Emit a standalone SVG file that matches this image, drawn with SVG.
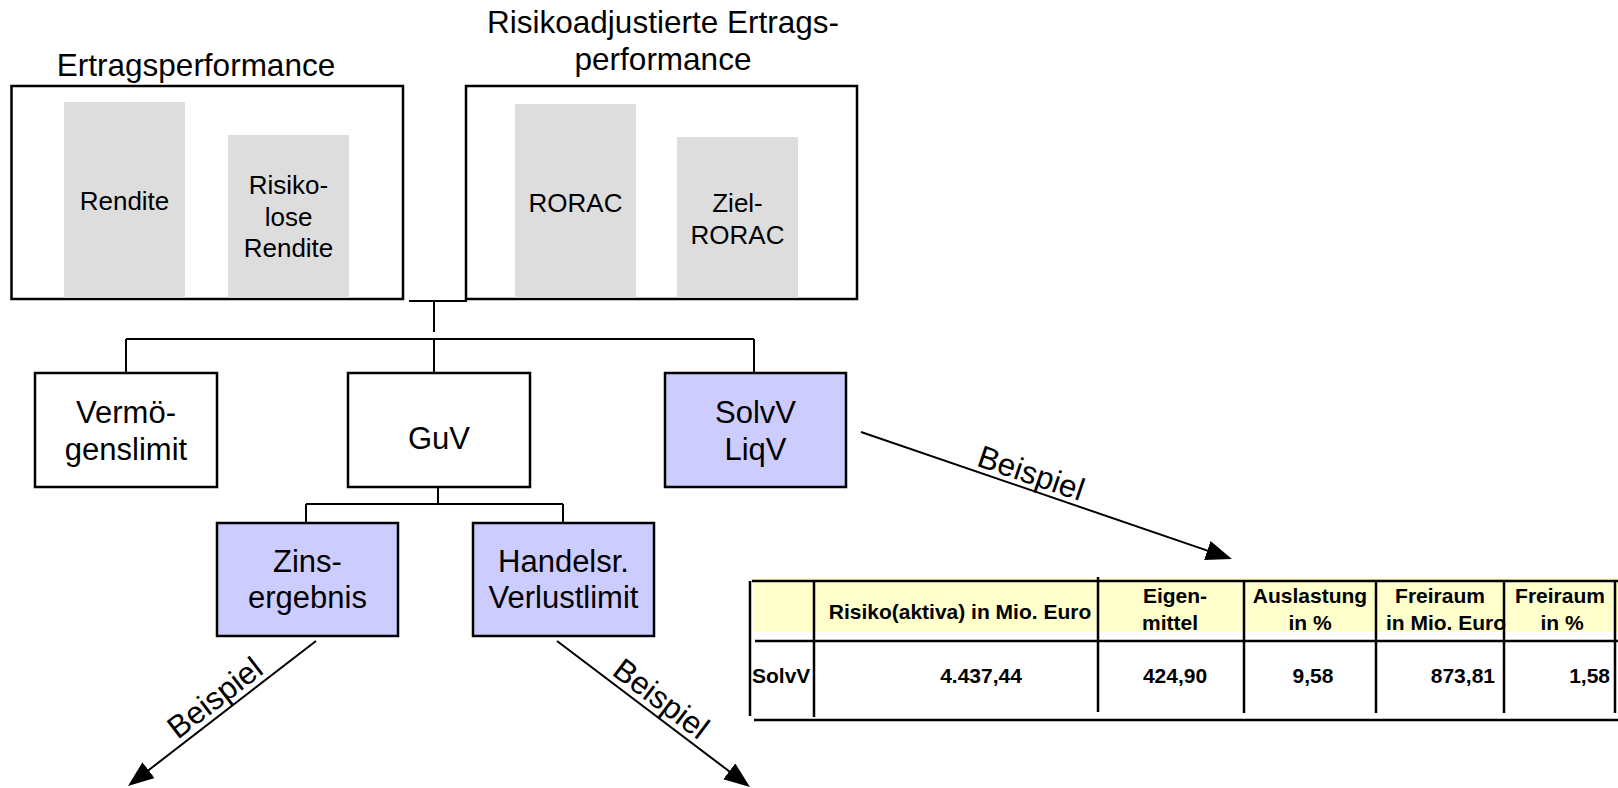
<svg xmlns="http://www.w3.org/2000/svg" width="1618" height="788" viewBox="0 0 1618 788">
<style>
text{font-family:"Liberation Sans",Arial,sans-serif;fill:#000}
.title{font-size:31.5px;text-anchor:middle}
.bar{fill:#dddddd}
.bt{font-size:26px;text-anchor:middle}
.frame{fill:#fff;stroke:#000;stroke-width:2.5}
.node{fill:#fff;stroke:#000;stroke-width:2.5}
.hl{fill:#ccccff}
.nt{font-size:31px;text-anchor:middle}
.con{fill:none;stroke:#000;stroke-width:2}
.arr{fill:none;stroke:#000;stroke-width:2;marker-end:url(#ah)}
.lbl{font-size:31.5px;text-anchor:middle}
.tl{stroke:#000;stroke-width:2.5}
.th{font-size:21px;font-weight:bold;text-anchor:middle}
.td{font-size:21px;font-weight:bold}
</style>
<defs>
<marker id="ah" markerUnits="userSpaceOnUse" viewBox="0 0 26 20" refX="14" refY="10" markerWidth="26" markerHeight="20" orient="auto">
<path d="M0,0 L26,10 L0,20 Z" fill="#000"/>
</marker>
</defs>
<rect width="1618" height="788" fill="#fff"/>

<g id="ertragsperformance">
<text class="title" x="196" y="76">Ertragsperformance</text>
<rect class="frame" x="11.5" y="86" width="391.5" height="213"/>
<rect class="bar" x="64" y="102" width="121" height="195.8"/>
<text class="bt" x="124.5" y="210">Rendite</text>
<rect class="bar" x="228" y="135" width="121" height="162.8"/>
<text class="bt" x="288.5" y="194">Risiko-</text>
<text class="bt" x="288.5" y="225.5">lose</text>
<text class="bt" x="288.5" y="257">Rendite</text>
</g>

<g id="risikoadjustierte">
<text class="title" x="663" y="33">Risikoadjustierte Ertrags-</text>
<text class="title" x="663" y="70">performance</text>
<rect class="frame" x="466" y="86" width="391" height="213"/>
<rect class="bar" x="515" y="104" width="121" height="193.8"/>
<text class="bt" x="575.5" y="212">RORAC</text>
<rect class="bar" x="677" y="137" width="121" height="160.8"/>
<text class="bt" x="737.5" y="212">Ziel-</text>
<text class="bt" x="737.5" y="243.5">RORAC</text>
</g>

<g id="connectors">
<line class="con" x1="409" y1="301" x2="467" y2="301"/>
<line class="con" x1="434" y1="301" x2="434" y2="332"/>
<line class="con" x1="126" y1="339" x2="754" y2="339"/>
<line class="con" x1="126" y1="339" x2="126" y2="373"/>
<line class="con" x1="434" y1="339" x2="434" y2="373"/>
<line class="con" x1="754" y1="339" x2="754" y2="373"/>
<line class="con" x1="438" y1="488" x2="438" y2="504"/>
<line class="con" x1="306" y1="504" x2="563" y2="504"/>
<line class="con" x1="306" y1="504" x2="306" y2="523"/>
<line class="con" x1="563" y1="504" x2="563" y2="523"/>
<line class="arr" x1="861" y1="432" x2="1220.6" y2="555.1"/>
<line class="arr" x1="316" y1="641" x2="137.5" y2="778.7"/>
<line class="arr" x1="557" y1="641" x2="740.4" y2="779.8"/>
<text class="lbl" transform="translate(1026,488) rotate(18.9)" x="0" y="-5">Beispiel</text>
<text class="lbl" transform="translate(225,711) rotate(-37.6)" x="0" y="-6">Beispiel</text>
<text class="lbl" transform="translate(651,712) rotate(37.1)" x="0" y="-6">Beispiel</text>
</g>

<g id="vermoegenslimit">
<rect class="node" x="35" y="373" width="182" height="114"/>
<text class="nt" x="126" y="423">Vermö-</text>
<text class="nt" x="126" y="460">genslimit</text>
</g>

<g id="guv">
<rect class="node" x="348" y="373" width="182" height="114"/>
<text class="nt" x="439" y="449">GuV</text>
</g>

<g id="solvv-liqv">
<rect class="node hl" x="665" y="373" width="181" height="114"/>
<text class="nt" x="755.5" y="423">SolvV</text>
<text class="nt" x="755.5" y="460">LiqV</text>
</g>

<g id="zinsergebnis">
<rect class="node hl" x="217" y="523" width="181" height="113"/>
<text class="nt" x="307.5" y="572">Zins-</text>
<text class="nt" x="307.5" y="608">ergebnis</text>
</g>

<g id="handelsr-verlustlimit">
<rect class="node hl" x="473" y="523" width="181" height="113"/>
<text class="nt" x="563.5" y="572">Handelsr.</text>
<text class="nt" x="563.5" y="608">Verlustlimit</text>
</g>

<g id="table">
<rect x="753" y="578" width="865" height="54" fill="#ffffcc"/>
<text class="th" x="960" y="619">Risiko(aktiva) in Mio. Euro</text>
<text class="th" x="1175" y="603">Eigen-</text>
<text class="th" x="1170" y="630">mittel</text>
<text class="th" x="1310" y="603">Auslastung</text>
<text class="th" x="1310" y="630">in %</text>
<text class="th" x="1440" y="603">Freiraum</text>
<text class="th" x="1446" y="630">in Mio. Euro</text>
<text class="th" x="1560" y="603">Freiraum</text>
<text class="th" x="1562" y="630">in %</text>
<text class="td" x="752" y="683">SolvV</text>
<text class="td" x="981" y="683" text-anchor="middle">4.437,44</text>
<text class="td" x="1175" y="683" text-anchor="middle">424,90</text>
<text class="td" x="1313" y="683" text-anchor="middle">9,58</text>
<text class="td" x="1495" y="683" text-anchor="end">873,81</text>
<text class="td" x="1610" y="683" text-anchor="end">1,58</text>
<line class="tl" x1="752" y1="581" x2="1618" y2="581"/>
<line class="tl" x1="755" y1="641" x2="1618" y2="641"/>
<line class="tl" x1="754" y1="720" x2="1618" y2="720"/>
<line class="tl" x1="750" y1="581" x2="750" y2="716"/>
<line class="tl" x1="814" y1="582" x2="814" y2="717"/>
<line class="tl" x1="1098" y1="577" x2="1098" y2="712"/>
<line class="tl" x1="1244" y1="582" x2="1244" y2="713"/>
<line class="tl" x1="1376" y1="582" x2="1376" y2="713"/>
<line class="tl" x1="1504" y1="582" x2="1504" y2="713"/>
<line class="tl" x1="1615" y1="582" x2="1615" y2="713"/>
</g>
</svg>
